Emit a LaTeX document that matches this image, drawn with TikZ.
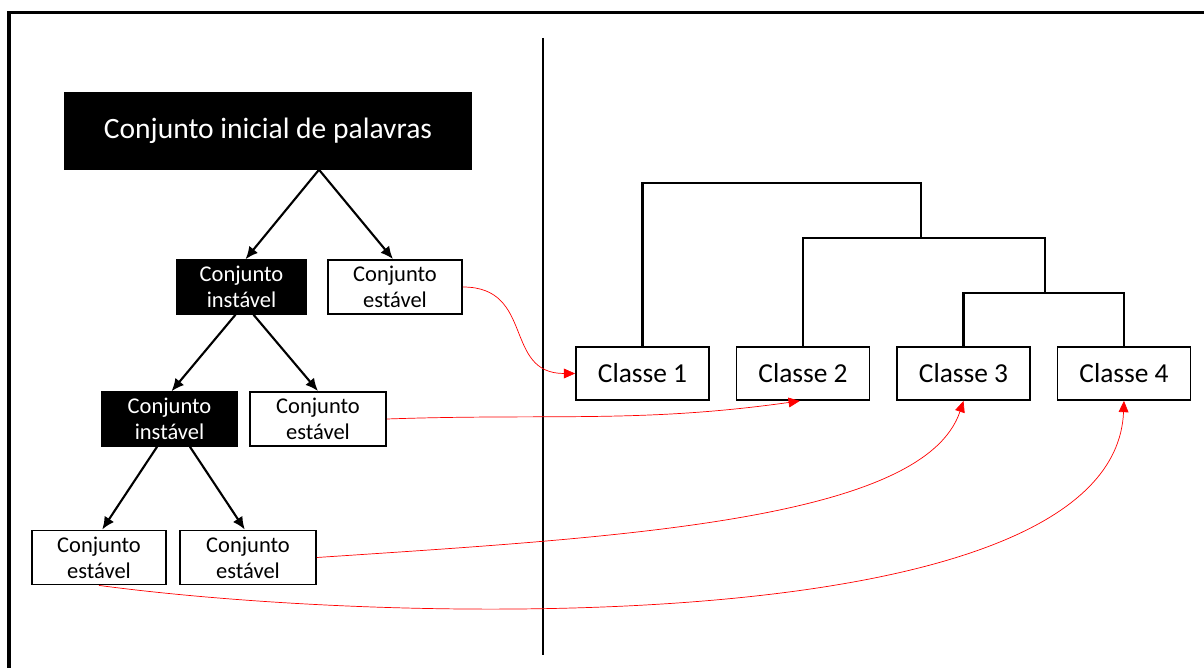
\documentclass[tikz,border=0pt]{standalone}
\usepackage{fontspec}
\setmainfont{Carlito}
\usetikzlibrary{arrows.meta}
\tikzset{
  blackbox/.style={draw=black, fill=black, text=white, line width=1pt, align=center, inner sep=0pt},
  whitebox/.style={draw=black, fill=white, line width=1.3pt, align=center, inner sep=0pt},
  setbox/.style={minimum height=1.35cm, font=\fontsize{16}{18.5}\selectfont},
  classbox/.style={whitebox, minimum width=3.325cm, minimum height=1.325cm, font=\fontsize{19.5}{22}\selectfont},
  split/.style={line width=1.5pt, -{Latex[length=9pt,width=8pt]}},
  link/.style={red, line width=0.5pt, -{Triangle[length=8pt,width=7pt]}},
  tree/.style={line width=1.5pt}
}

\begin{document}
\begin{tikzpicture}[x=0.025cm, y=-0.025cm]
        \useasboundingbox (0,0) rectangle (1204,668);
        \draw [line width=2.2pt] (9,668) |- (1204,12.5);
        \draw [line width=1.4pt] (543,38) -- (543,655);

        % left side: splitting the words
        \node [blackbox, minimum width=10.15cm, minimum height=1.9cm, font=\fontsize{21}{24}\selectfont] (top) at (268,131) {Conjunto inicial de palavras};
        \node [blackbox, setbox, minimum width=3.225cm] (inst1) at (241.5,287) {Conjunto\\instável};
        \node [whitebox, setbox, minimum width=3.35cm] (stab1) at (395,287) {Conjunto\\estável};
        \node [blackbox, setbox, minimum width=3.375cm] (inst2) at (169.5,419) {Conjunto\\instável};
        \node [whitebox, setbox, minimum width=3.4cm] (stab2) at (318,419) {Conjunto\\estável};
        \node [whitebox, setbox, minimum width=3.35cm] (leaf1) at (99,557.5) {Conjunto\\estável};
        \node [whitebox, setbox, minimum width=3.4cm] (leaf2) at (248,557.5) {Conjunto\\estável};

        \draw [split] ([xshift=1.275cm]top.south) -- ([xshift=0.1cm]inst1.north);
        \draw [split] ([xshift=1.275cm]top.south) -- ([xshift=-0.05cm]stab1.north);
        \draw [split] ([xshift=-0.15cm]inst1.south) -- ([xshift=0.05cm]inst2.north);
        \draw [split] ([xshift=0.3cm]inst1.south) -- (stab2.north);
        \draw [split] ([xshift=-0.31cm]inst2.south) -- ([xshift=0.08cm]leaf1.north);
        \draw [split] ([xshift=0.51cm]inst2.south) -- ([xshift=-0.08cm]leaf2.north);

        % right side: the classes
        \node [classbox] (c1) at (642.5,373.5) {Classe 1};
        \node [classbox] (c2) at (803,373.5) {Classe 2};
        \node [classbox] (c3) at (963.5,373.5) {Classe 3};
        \node [classbox] (c4) at (1124,373.5) {Classe 4};

        \coordinate (h1) at (780,183);
        \coordinate (h2) at (921,238);
        \coordinate (h3) at (1045,293);
        \draw [tree] (c3.north) |- (h3) -| (c4.north);
        \draw [tree] (c2.north) |- (h2) -| (h3);
        \draw [tree] (c1.north) |- (h1) -| (h2);

        \draw [link] (stab1.east) to [out=0, in=180, looseness=1.3] (c1.west);
        \draw [link] (stab2.east) to [out=2, in=188] ([xshift=-0.08cm]c2.south);
        \draw [link] (leaf2.east) .. controls +(300,-20) and +(-40,120) .. (c3.south);
        \draw [link] (leaf1.south) .. controls +(300,40) and +(-10,240) .. (c4.south);
      \end{tikzpicture}
\end{document}
